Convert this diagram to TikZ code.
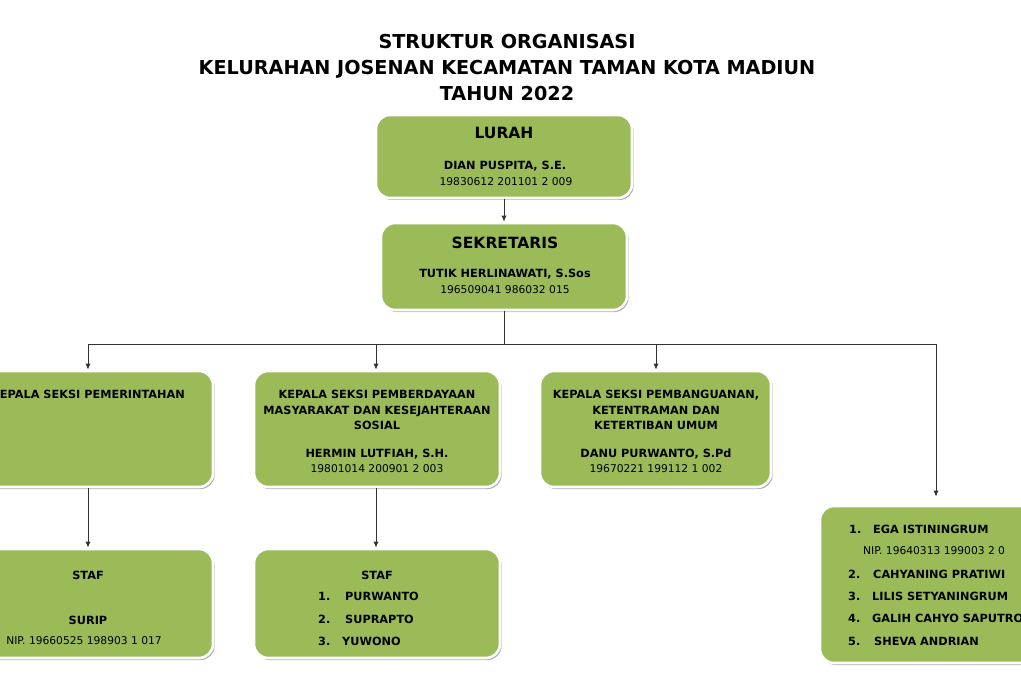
\documentclass[tikz,border=0pt]{standalone}
\usepackage{fontspec}
\setmainfont{DejaVu Sans}
\usepackage{tikz}
\usetikzlibrary{arrows.meta,shadows,positioning}

\definecolor{boxgreen}{RGB}{155,187,89}

\tikzset{
  orgbox/.style={draw=white, line width=2.6pt, fill=boxgreen, rounded corners=14pt,
    inner sep=0pt, drop shadow={shadow xshift=1.6pt, shadow yshift=-2pt, fill=black!45, opacity=0.7}},
  conn/.style={black!80, line width=0.8pt},
  arr/.style={conn, -{Latex[length=6pt,width=5pt]}},
  ttl/.style={font=\bfseries\fontsize{19.2}{26}\selectfont, align=center, inner sep=0pt},
  head/.style={font=\bfseries\fontsize{15.5}{18}\selectfont, inner sep=0pt},
  nm/.style={font=\bfseries\fontsize{11.3}{15.5}\selectfont, align=center, inner sep=0pt},
  nip/.style={font=\fontsize{10.7}{14}\selectfont, inner sep=0pt}
}

\begin{document}
\begin{tikzpicture}[x=1pt,y=-1pt]
  \path[use as bounding box] (0,0) rectangle (1021,690);
  \clip (0,0) rectangle (1021,690);

  % Judul
  \node[ttl] (judul) at (507,68) {STRUKTUR ORGANISASI\\KELURAHAN JOSENAN KECAMATAN TAMAN KOTA MADIUN\\TAHUN 2022};

  % Kotak-kotak
  \node[orgbox, minimum width=256, minimum height=83] (lurah) at (504,156.5) {};
  \node[orgbox, minimum width=246, minimum height=87] (sekre) at (504,266.5) {};
  \node[orgbox, minimum width=250, minimum height=116] (pem) at (88,429) {};
  \node[orgbox, minimum width=246, minimum height=116] (pmks) at (377,429) {};
  \node[orgbox, minimum width=231, minimum height=116] (pbg) at (655.5,429) {};
  \node[orgbox, minimum width=250, minimum height=109] (staf1) at (88,603.5) {};
  \node[orgbox, minimum width=246, minimum height=109] (staf2) at (377,603.5) {};
  \node[orgbox, minimum width=232, minimum height=157] (staf3) at (936,584.5) {};

  % Garis
  \coordinate (bus) at (504,344);
  \coordinate (busL) at (88,344);
  \coordinate (busM) at (376,344);
  \coordinate (busK) at (656,344);
  \coordinate (busR) at (936,344);
  \draw[arr] (lurah.south) -- (sekre.north);
  \draw[conn] (sekre.south) -- (bus);
  \draw[conn] (busL) -- (busR);
  \draw[arr] (busL) -- (pem.north);
  \draw[arr] (busM) -- (busM |- pmks.north);
  \draw[arr] (busK) -- (busK |- pbg.north);
  \draw[arr, shorten >=8pt] (busR) -- (staf3.north);
  \draw[arr] (pem.south) -- (staf1.north);
  \draw[arr] (busM |- pmks.south) -- (busM |- staf2.north);

  % Lurah
  \node[head] (tlurah) at (504,133) {LURAH};
  \node[nm] (nlurah) at (505,166) {DIAN PUSPITA, S.E.};
  \node[nip] (plurah) at (506,182) {19830612 201101 2 009};

  % Sekretaris
  \node[head] (tsekre) at (505,243) {SEKRETARIS};
  \node[nm] (nsekre) at (505,274) {TUTIK HERLINAWATI, S.Sos};
  \node[nip] (psekre) at (505,290) {196509041 986032 015};

  % Seksi
  \node[nm] (tpem) at (88,394) {KEPALA SEKSI PEMERINTAHAN};

  \node[nm] (tpmks) at (377,410) {KEPALA SEKSI PEMBERDAYAAN\\MASYARAKAT DAN KESEJAHTERAAN\\SOSIAL};
  \node[nm] (npmks) at (377,454) {HERMIN LUTFIAH, S.H.};
  \node[nip] (ppmks) at (377,469) {19801014 200901 2 003};

  \node[nm] (tpbg) at (656,410) {KEPALA SEKSI PEMBANGUANAN,\\KETENTRAMAN DAN\\KETERTIBAN UMUM};
  \node[nm] (npbg) at (656,454) {DANU PURWANTO, S.Pd};
  \node[nip] (ppbg) at (656,469) {19670221 199112 1 002};

  % Staf
  \node[nm] (tstaf1) at (88,575) {STAF};
  \node[nm] (nstaf1) at (88,620) {SURIP};
  \node[nip] (pstaf1) at (84,641) {NIP. 19660525 198903 1 017};

  \node[nm] (tstaf2) at (377,575) {STAF};
  \node[nm, anchor=west] (a1) at (318,596) {1.};
  \node[nm, anchor=west] (b1) at (345,596) {PURWANTO};
  \node[nm, anchor=west] (a2) at (318,619) {2.};
  \node[nm, anchor=west] (b2) at (345,619) {SUPRAPTO};
  \node[nm, anchor=west] (a3) at (318,641) {3.};
  \node[nm, anchor=west] (b3) at (342,641) {YUWONO};

  \node[nm, anchor=west] (c1) at (849,529) {1.};
  \node[nm, anchor=west] (d1) at (873,529) {EGA ISTININGRUM};
  \node[nip, anchor=west] (e1) at (863,551) {NIP. 19640313 199003 2 0};
  \node[nm, anchor=west] (c2) at (848,574) {2.};
  \node[nm, anchor=west] (d2) at (873,574) {CAHYANING PRATIWI};
  \node[nm, anchor=west] (c3) at (848,596) {3.};
  \node[nm, anchor=west] (d3) at (872,596) {LILIS SETYANINGRUM};
  \node[nm, anchor=west] (c4) at (848,618) {4.};
  \node[nm, anchor=west] (d4) at (872,618) {GALIH CAHYO SAPUTRO};
  \node[nm, anchor=west] (c5) at (848,641) {5.};
  \node[nm, anchor=west] (d5) at (874,641) {SHEVA ANDRIAN};
\end{tikzpicture}
\end{document}
